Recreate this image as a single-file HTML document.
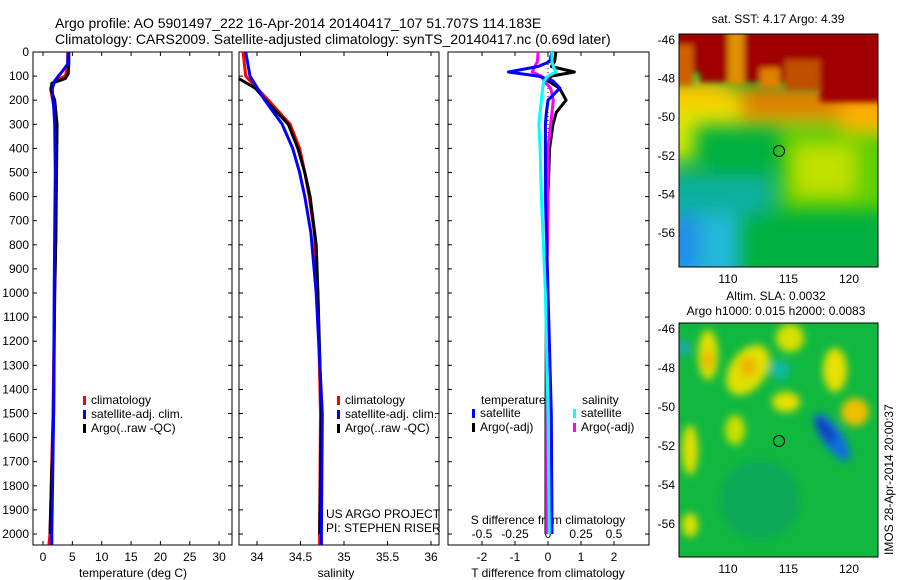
<!DOCTYPE html>
<html><head><meta charset="utf-8">
<style>
body{margin:0;background:#fff;}
svg{display:block;font-family:"Liberation Sans",sans-serif;}
text{fill:#000;}
</style></head>
<body>
<svg id="fig" width="900" height="580" viewBox="0 0 900 580">
<defs>
<filter id="blur1" x="-50%" y="-50%" width="200%" height="200%"><feGaussianBlur stdDeviation="9"/></filter>
<filter id="blur2" x="-50%" y="-50%" width="200%" height="200%"><feGaussianBlur stdDeviation="4"/></filter>
<filter id="blur3" x="-50%" y="-50%" width="200%" height="200%"><feGaussianBlur stdDeviation="3"/></filter>
<clipPath id="clipA"><rect x="679" y="34" width="199" height="233"/></clipPath>
<clipPath id="clipB"><rect x="679" y="323" width="199" height="234"/></clipPath>
</defs>
<text x="55" y="28" font-size="14">Argo profile: AO 5901497_222 16-Apr-2014 20140417_107 51.707S 114.183E</text>
<text x="55" y="44" font-size="14">Climatology: CARS2009. Satellite-adjusted climatology: synTS_20140417.nc (0.69d later)</text>
<g id="plots"></g>

<!-- SST map -->
<g>
<text x="778" y="23" font-size="12" text-anchor="middle">sat. SST: 4.17 Argo: 4.39</text>
<g clip-path="url(#clipA)">
<rect x="679" y="34" width="199" height="233" fill="#00b040"/>
<g filter="url(#blur1)">
<rect x="640" y="200" width="100" height="90" fill="#20b8d8"/>
<rect x="650" y="215" width="50" height="60" fill="#2090e8"/>
<rect x="640" y="175" width="130" height="40" fill="#10b0a0"/>
<rect x="780" y="130" width="110" height="80" fill="#60d000"/>
<rect x="795" y="145" width="60" height="50" fill="#c0e000"/>
<rect x="640" y="115" width="55" height="45" fill="#d0e800"/>
<rect x="640" y="90" width="250" height="35" fill="#e8e000"/>
<rect x="640" y="80" width="90" height="22" fill="#ffc000"/>
<rect x="740" y="85" width="160" height="35" fill="#e08000"/>
<rect x="840" y="100" width="60" height="30" fill="#ffb000"/>
</g>
<g filter="url(#blur3)">
<rect x="660" y="10" width="240" height="62" fill="#a00000"/>
<rect x="820" y="60" width="80" height="42" fill="#a00000"/>
<rect x="700" y="60" width="100" height="22" fill="#a00000"/>
<rect x="728" y="30" width="16" height="55" fill="#e09000"/>
<rect x="675" y="45" width="18" height="40" fill="#d06000"/>
<rect x="785" y="60" width="35" height="30" fill="#c05000"/>
<rect x="760" y="68" width="20" height="20" fill="#e08000"/>
</g>
</g>
<rect x="679" y="34" width="199" height="233" fill="none" stroke="#000"/>
<circle cx="779" cy="151" r="5.5" fill="none" stroke="#000"/>
</g>

<!-- SLA map -->
<g>
<text x="776" y="300" font-size="12" text-anchor="middle">Altim. SLA: 0.0032</text>
<text x="776" y="315" font-size="12" text-anchor="middle">Argo h1000: 0.015 h2000: 0.0083</text>
<g clip-path="url(#clipB)">
<rect x="679" y="323" width="199" height="234" fill="#10b840"/>
<g filter="url(#blur2)">
<ellipse cx="708" cy="355" rx="10" ry="25" fill="#e0e000"/>
<ellipse cx="748" cy="370" rx="18" ry="28" fill="#e0e000" transform="rotate(35 748 370)"/>
<ellipse cx="748" cy="367" rx="8" ry="10" fill="#f0b000"/>
<ellipse cx="708" cy="360" rx="5" ry="10" fill="#f0b000"/>
<ellipse cx="786" cy="402" rx="14" ry="10" fill="#e8e000"/>
<ellipse cx="790" cy="338" rx="14" ry="14" fill="#d8e000"/>
<ellipse cx="835" cy="370" rx="12" ry="22" fill="#e8e000"/>
<ellipse cx="855" cy="412" rx="14" ry="14" fill="#f0c000"/>
<ellipse cx="690" cy="450" rx="8" ry="25" fill="#e0e000"/>
<ellipse cx="735" cy="430" rx="10" ry="15" fill="#c8e000"/>
<ellipse cx="690" cy="525" rx="8" ry="12" fill="#e0e000"/>
<ellipse cx="780" cy="370" rx="10" ry="10" fill="#10b8a0"/>
<ellipse cx="684" cy="348" rx="4" ry="8" fill="#20a0e0"/>
<ellipse cx="832" cy="437" rx="10" ry="28" fill="#1070e0" transform="rotate(-35 832 437)"/>
<ellipse cx="825" cy="430" rx="6" ry="16" fill="#1040c0" transform="rotate(-35 825 430)"/>
<ellipse cx="760" cy="500" rx="40" ry="40" fill="#10a858"/>
</g>
</g>
<rect x="679" y="323" width="199" height="234" fill="none" stroke="#000"/>
<circle cx="779" cy="441" r="5.5" fill="none" stroke="#000"/>
<text x="0" y="0" font-size="12" transform="translate(893 555) rotate(-90)">IMOS 28-Apr-2014 20:00:37</text>
</g>
</svg>
<script>
// ---- data ----
const tDepthClim = [0,50,80,100,120,150,180,220,300,500,750,1000,1500,2000,2045];
const tClim      = [4.2,4.2,4.0,3.8,2.0,1.3,1.5,1.8,2.1,2.2,2.2,2.0,1.7,1.2,1.0];
const tSat       = [4.3,4.2,3.3,2.6,2.0,1.6,1.6,1.8,2.0,2.1,2.0,1.9,1.8,1.5,1.5];
const tDepthArgo = [0,50,90,110,130,160,200,300,500,750,1000,1500,2000];
const tArgo      = [4.4,4.4,4.3,3.8,1.5,1.4,2.0,2.4,2.3,2.2,2.0,1.8,1.2];
const sDepth     = [0,100,200,300,400,500,600,750,1000,1500,2000,2045];
const sClim      = [33.84,33.87,34.13,34.38,34.49,34.55,34.60,34.66,34.70,34.73,34.72,34.72];
const sSat       = [33.87,33.92,34.09,34.29,34.41,34.49,34.55,34.62,34.68,34.75,34.74,34.74];
const sDepthArgo = [110,150,200,300,400,500,600,800,1000,1500,2000];
const sArgo      = [33.79,33.98,34.10,34.36,34.47,34.55,34.61,34.68,34.70,34.74,34.72];
const dDepth     = [0,40,60,83,100,120,150,200,250,300,400,600,1000,1500,2000];
const dTSat      = [0.12,0.05,-0.3,-1.2,-0.3,0.15,0.36,0.0,-0.05,-0.08,-0.08,-0.08,0.0,0.1,0.12];
const dTArgo     = [0.24,0.2,0.1,0.8,0.1,0.0,0.35,0.55,0.25,0.15,0.05,0.0,-0.05,-0.06,-0.06];
const dSSat      = [0.03,0.03,0.04,0.06,0.0,-0.03,-0.04,-0.05,-0.06,-0.07,-0.06,-0.05,-0.02,0.0,0.01];
const dSArgo     = [-0.075,-0.08,-0.1,-0.12,-0.05,-0.03,0.02,0.04,0.03,0.02,0.0,0.0,-0.01,-0.01,-0.01];
const depthTicks = [0,100,200,300,400,500,600,700,800,900,1000,1100,1200,1300,1400,1500,1600,1700,1800,1900,2000];
const tTicks = [0,5,10,15,20,25,30];
const sTicks = [34,34.5,35,35.5,36];
const dTTicks = [-2,-1,0,1,2];
const dSTicks = [-0.5,-0.25,0,0.25,0.5];
const dSTickLabels = ['-0.5','-0.25','0','0.25','0.5'];

const NS='http://www.w3.org/2000/svg';
const root=document.getElementById('plots');
function el(tag,attrs,parent){const e=document.createElementNS(NS,tag);for(const k in attrs)e.setAttribute(k,attrs[k]);(parent||root).appendChild(e);return e;}
const TOP=52,BOT=545;
const yD=d=>TOP+d*0.241;
function xs(x0,v0,ppu){return v=>x0+(v-v0)*ppu;}
const xT=xs(43,0,5.87), xS=xs(257,34,87), xDT=xs(548,0,33), xDS=xs(548,0,132);

function frame(x0,x1,name,leftLabels){
  const g=el('g',{});
  
  
  el('rect',{x:x0,y:TOP,width:x1-x0,height:BOT-TOP,fill:'none',stroke:'#000'},g);
  depthTicks.forEach(d=>{
    el('line',{x1:x0,x2:x0+4,y1:yD(d),y2:yD(d),stroke:'#000'},g);
    el('line',{x1:x1,x2:x1-4,y1:yD(d),y2:yD(d),stroke:'#000'},g);
    if(leftLabels){const t=el('text',{x:x0-4,y:yD(d)+4,'font-size':12,'text-anchor':'end'},g);t.textContent=d;
      }
  });
  return g;
}
function xticks(g,ticks,labels,fx,y,top){
  ticks.forEach((v,i)=>{
    el('line',{x1:fx(v),x2:fx(v),y1:BOT,y2:BOT-4,stroke:'#000'},g);
    if(top) el('line',{x1:fx(v),x2:fx(v),y1:TOP,y2:TOP+4,stroke:'#000'},g);
    const t=el('text',{x:fx(v),y:y,'font-size':12,'text-anchor':'middle'},g);t.textContent=labels[i];
    
  });
}
function line(g,depths,vals,fx,color,w,name){
  const p=depths.map((d,i)=>fx(vals[i]).toFixed(1)+','+yD(d).toFixed(1)).join(' ');
  const l=el('polyline',{points:p,fill:'none',stroke:color,'stroke-width':w,'stroke-linejoin':'round'},g);
  
  
}
function legend(g,x,y,items){
  items.forEach((it,i)=>{
    el('rect',{x:x,y:y+i*14-4,width:3,height:9,fill:it[0]},g);
    const t=el('text',{x:x+8,y:y+i*14+4,'font-size':12},g);t.textContent=it[1];
    
  });
}
function label(g,x,y,txt,name,anchor){const t=el('text',{x:x,y:y,'font-size':12,'text-anchor':anchor||'middle'},g);t.textContent=txt;
  }

// Panel 1 temperature
const g1=frame(33,232,'temperature-panel',true);
xticks(g1,tTicks,tTicks.map(String),xT,561,true);
label(g1,133,577,'temperature (deg C)','x-axis-title');
line(g1,tDepthClim,tClim,xT,'#f00',3,'temp-climatology-line');
line(g1,tDepthArgo,tArgo,xT,'#000',3,'temp-argo-line');
line(g1,tDepthClim,tSat,xT,'#00f',3,'temp-satellite-line');
legend(g1,83,400,[['#f00','climatology'],['#00f','satellite-adj. clim.'],['#000','Argo(..raw -QC)']]);

// Panel 2 salinity
const g2=frame(239,439,'salinity-panel',false);
xticks(g2,sTicks,sTicks.map(String),xS,561,true);
label(g2,336,577,'salinity','x-axis-title');
line(g2,sDepth,sClim,xS,'#f00',3,'sal-climatology-line');
line(g2,sDepthArgo,sArgo,xS,'#000',3,'sal-argo-line');
line(g2,sDepth,sSat,xS,'#00f',3,'sal-satellite-line');
legend(g2,337,400,[['#f00','climatology'],['#00f','satellite-adj. clim.'],['#000','Argo(..raw -QC)']]);
label(g2,326,518,'US ARGO PROJECT','credit-project','start');
label(g2,326,532,'PI: STEPHEN RISER','credit-pi','start');

// Panel 3 differences
const g3=frame(448,649,'difference-panel',false);
xticks(g3,dTTicks,dTTicks.map(String),xDT,561,true);
label(g3,548,577,'T difference from climatology','x-axis-title');
dSTicks.forEach((v,i)=>{label(g3,xDS(v),538,dSTickLabels[i],'s-tick-label');});
label(g3,548,524,'S difference from climatology','s-axis-title');
const zl=el('line',{x1:xDT(0),x2:xDT(0),y1:TOP,y2:BOT-30,stroke:'#000','stroke-dasharray':'1,3'},g3);

line(g3,dDepth,dTArgo,xDT,'#000',3,'dT-argo-line');
line(g3,dDepth,dSArgo,xDS,'#f0f',3,'dS-argo-line');
line(g3,dDepth,dTSat,xDT,'#00f',3,'dT-satellite-line');
line(g3,dDepth,dSSat,xDS,'#0ff',3,'dS-satellite-line');
label(g3,481,404,'temperature','legend-title-temp','start');
label(g3,582,404,'salinity','legend-title-sal','start');
legend(g3,472,413,[['#00f','satellite'],['#000','Argo(-adj)']]);
legend(g3,573,413,[['#0ff','satellite'],['#f0f','Argo(-adj)']]);

// map axes
const mapAxes=[[34,40,233],[323,329,524]];
const lats=[-46,-48,-50,-52,-54,-56];
const lons=[110,115,120];
mapAxes.forEach(([top,y46,y56],mi)=>{
  const g=el('g',{});
  
  
  const bot=mi?557:267;
  lats.forEach(la=>{const y=y46+(-46-la)*(y56-y46)/10;
    el('line',{x1:679,x2:683,y1:y,y2:y,stroke:'#000'},g);el('line',{x1:878,x2:874,y1:y,y2:y,stroke:'#000'},g);
    label(g,675,y+4,String(la),'lat-tick-label','end');});
  lons.forEach(lo=>{const x=728+(lo-110)*12.1;
    el('line',{x1:x,x2:x,y1:bot,y2:bot-4,stroke:'#000'},g);el('line',{x1:x,x2:x,y1:top,y2:top+4,stroke:'#000'},g);
    label(g,x,bot+16,String(lo),'lon-tick-label');});
});
</script>
</body></html>
